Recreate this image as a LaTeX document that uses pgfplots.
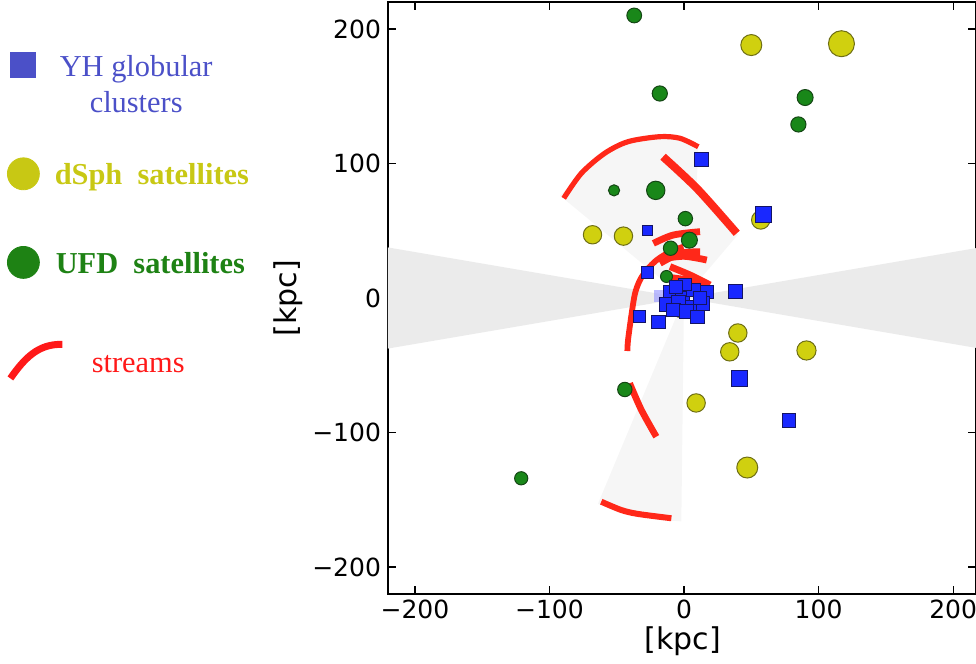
\documentclass[border=0pt]{standalone}
\usepackage{pgfplots}
\usepackage{pgfplotstable}
\pgfplotsset{compat=1.18}
\usepackage{fontspec}
\setmainfont{Liberation Serif}
\newfontfamily\dejavu{DejaVu Sans}
\definecolor{gcol}{RGB}{25,135,25}
\definecolor{gedge}{RGB}{20,70,20}
\definecolor{ycol}{RGB}{208,208,15}
\definecolor{yedge}{RGB}{110,110,20}
\definecolor{bcol}{RGB}{25,40,255}
\definecolor{bedge}{RGB}{20,20,100}
\definecolor{rcol}{RGB}{255,40,25}
\definecolor{lgblue}{RGB}{75,80,200}
\definecolor{lgyellow}{RGB}{200,200,20}
\definecolor{lggreen}{RGB}{30,130,20}
\definecolor{lgred}{RGB}{255,25,25}
\definecolor{wedge}{RGB}{235,235,235}
\definecolor{cone}{RGB}{246,246,246}

\pgfplotstableread{
x y s
-37 210 3.7
-18 152 3.8
-52 80 2.8
-21 80 4.6
1 59 3.6
4 43 4.0
-10 37 3.6
90 149 4.0
85 129 3.8
-44 -68 3.6
-121 -134 3.3
-13 16 3.0
}\ufd

\pgfplotstableread{
x y s
50 188 5.25
117 189 6.5
57 58 4.6
-68 47 4.6
-45 46 4.6
40 -26 4.6
34 -40 4.6
91 -39 4.8
9 -78 4.6
47 -126 5.25
-3 -10 3.0
}\dsph

\pgfplotstableread{
x y s
13 103 3.5
59 62 4.0
38 4.5 3.5
41 -59.5 4.0
78 -91 3.3
-27 50 2.6
-33 -14 3.0
-19 -18 3.3
-27 19 3.0
-10 4 3.4
-1 0 3.4
7 6 3.4
17 4.5 3.4
-13 -5 3.4
-4 -3 3.4
6 -7 3.4
14 -4 3.4
-8 -9 3.4
2 -10 3.4
10 -14 3.4
1 10 3.2
-6 8 3.2
12 0 3.2
}\yhgc

\begin{document}
\begin{tikzpicture}
\begin{axis}[
  at={(194pt,35pt)}, anchor=south west,
  scale only axis, width=294pt, height=296pt,
  xmin=-220, xmax=217, ymin=-220, ymax=220,
  axis line style={line width=0.8pt, black},
  tick align=inside, xtick pos=both, ytick pos=both,
  major tick length=4pt,
  tick style={line width=0.6pt, black},
  xtick={-200,-100,0,100,200}, xticklabels={−200,−100,0,100,200},
  ytick={-200,-100,0,100,200}, yticklabels={−200,−100,0,100,200},
  tick label style={font=\dejavu\fontsize{12.5}{15}\selectfont},
  xticklabel style={inner sep=3pt},
  xlabel={[kpc]}, ylabel={[kpc]},
  label style={font=\dejavu\fontsize{15}{18}\selectfont},
  xlabel style={at={(axis description cs:0.5017,-0.0794)}, anchor=center},
  ylabel style={at={(axis description cs:-0.170,0.5)}, anchor=center},
  legend cell align=left,
  legend style={at={(axis description cs:-0.659864,0.9172)}, anchor=north west,
    draw=none, fill=none, inner sep=0pt, outer sep=0pt, row sep=0pt, column sep=0pt,
    nodes={inner sep=0pt, outer sep=0pt, text depth=},
    cells={anchor=base west},
    font=\fontsize{15.2}{18}\selectfont},
]
% shaded regions
\addplot[draw=none, fill=wedge, forget plot] coordinates {(-240,41) (0,0) (-240,-41)};
\addplot[draw=none, fill=wedge, forget plot] coordinates {(240,41) (0,0) (240,-41)};
\addplot[draw=none, fill=cone, forget plot] coordinates {(0,0) (-92,76) (-76.3,92.7) (-58.9,107.6) (-41.6,116.2) (-18.1,119.9) (-3,118.7) (10.6,112.4) (9.4,82.7) (21.8,69.1) (31.7,57.9) (40,47)};
\addplot[draw=none, fill=cone, forget plot] coordinates {(0,0) (-64,-153) (-47,-158.5) (-34,-161.5) (-18,-165) (-2,-166)};

% dSph satellites
\addplot[scatter, only marks, mark=*, forget plot,
  scatter/use mapped color={draw=yedge, fill=ycol},
  mark options={line width=0.5pt},
  visualization depends on={\thisrow{s}\as\msize},
  scatter/@pre marker code/.append style={/tikz/mark size=\msize pt}]
  table[x=x,y=y] {\dsph};
% UFD satellites
\addplot[scatter, only marks, mark=*, forget plot,
  scatter/use mapped color={draw=gedge, fill=gcol},
  mark options={line width=0.5pt},
  visualization depends on={\thisrow{s}\as\msize},
  scatter/@pre marker code/.append style={/tikz/mark size=\msize pt}]
  table[x=x,y=y] {\ufd};
% YH globular clusters
\addplot[only marks, mark=square*, mark size=2.6pt, forget plot, color={rgb,255:red,160;green,160;blue,255}, opacity=0.7] coordinates {(-18,1.5)};
\addplot[scatter, only marks, mark=square*, forget plot,
  scatter/use mapped color={draw=bedge, fill=bcol},
  mark options={line width=0.5pt},
  visualization depends on={\thisrow{s}\as\msize},
  scatter/@pre marker code/.append style={/tikz/mark size=\msize pt}]
  table[x=x,y=y] {\yhgc};

% streams
\addplot[rcol, line width=2.6pt, smooth, forget plot] coordinates {(-89.4,74.1) (-76.3,92.7) (-58.9,107.6) (-41.6,116.2) (-18.1,119.9) (-3,118.7) (10.6,112.4)};
\addplot[rcol, line width=4pt, smooth, forget plot] coordinates {(-15.6,105) (10,81) (39.2,48.1)};
\addplot[rcol, line width=2.9pt, smooth, forget plot] coordinates {(-42.1,-39.4) (-41.6,-31.2) (-38.9,-11.4) (-36.4,3.5) (-32.7,13.4) (-27.7,20.8) (-20.3,28.2) (-10.4,34.4) (-0.5,38.1)};
\addplot[rcol, line width=3.4pt, smooth, forget plot] coordinates {(-22.8,40.6) (-8,46.8) (11.9,49.3)};
\addplot[rcol, line width=3.4pt, smooth, forget plot] coordinates {(-17.8,25.8) (-3,33.2) (11.9,34.4)};
\addplot[rcol, line width=3.4pt, smooth, forget plot] coordinates {(-17,29) (0,31) (16.9,28.2)};
\addplot[rcol, line width=3.4pt, smooth, forget plot] coordinates {(-10.4,23.3) (4.5,17.1) (19.3,9.7)};
\addplot[rcol, line width=3.4pt, smooth, forget plot] coordinates {(-15.4,15.8) (2,13.5) (18.1,9.7)};
\addplot[rcol, line width=3pt, smooth, forget plot] coordinates {(-8,4.7) (4.5,7.2)};
\addplot[rcol, line width=3.3pt, smooth, forget plot] coordinates {(-40.4,-63.4) (-31.7,-83.2) (-20.6,-103.1)};
\addplot[rcol, line width=3pt, smooth, forget plot] coordinates {(-61.5,-151.4) (-46.6,-157.6) (-34.2,-160.5) (-9.4,-163.7)};

% legend
\addlegendimage{legend image code/.code={\path (0pt,0pt); \fill[lgblue,overlay] (5pt,-0.75pt) rectangle (17.5pt,11.75pt);}}
\addlegendentry{\rule[-43.5pt]{0pt}{14pt}\hspace*{29.5pt}\textcolor{lgblue}{\begin{tabular}[t]{@{}c@{}}YH globular\\clusters\end{tabular}}}
\addlegendimage{legend image code/.code={\path (0pt,0pt); \fill[lgyellow,overlay] (11.5pt,5.25pt) circle[radius=8pt];}}
\addlegendentry{\rule[-34pt]{0pt}{14pt}\hspace*{27pt}\textcolor{lgyellow}{\bfseries dSph\ \ satellites}}
\addlegendimage{legend image code/.code={\path (0pt,0pt); \fill[lggreen,overlay] (11.5pt,5.5pt) circle[radius=8pt];}}
\addlegendentry{\rule[-40.5pt]{0pt}{14pt}\hspace*{27.5pt}\textcolor{lggreen}{\bfseries UFD\ \ satellites}}
\addlegendimage{legend image code/.code={\path (0pt,0pt); \draw[lgred,line width=3.5pt,overlay] (5pt,-3pt) to[out=55,in=178] (31pt,14pt);}}
\addlegendentry{\rule[-5pt]{0pt}{14pt}\hspace*{45.5pt}\textcolor{lgred}{streams}}
\end{axis}
\pgfresetboundingbox
\path[use as bounding box] (0,0) rectangle (488pt,332pt);
\end{tikzpicture}
\end{document}
